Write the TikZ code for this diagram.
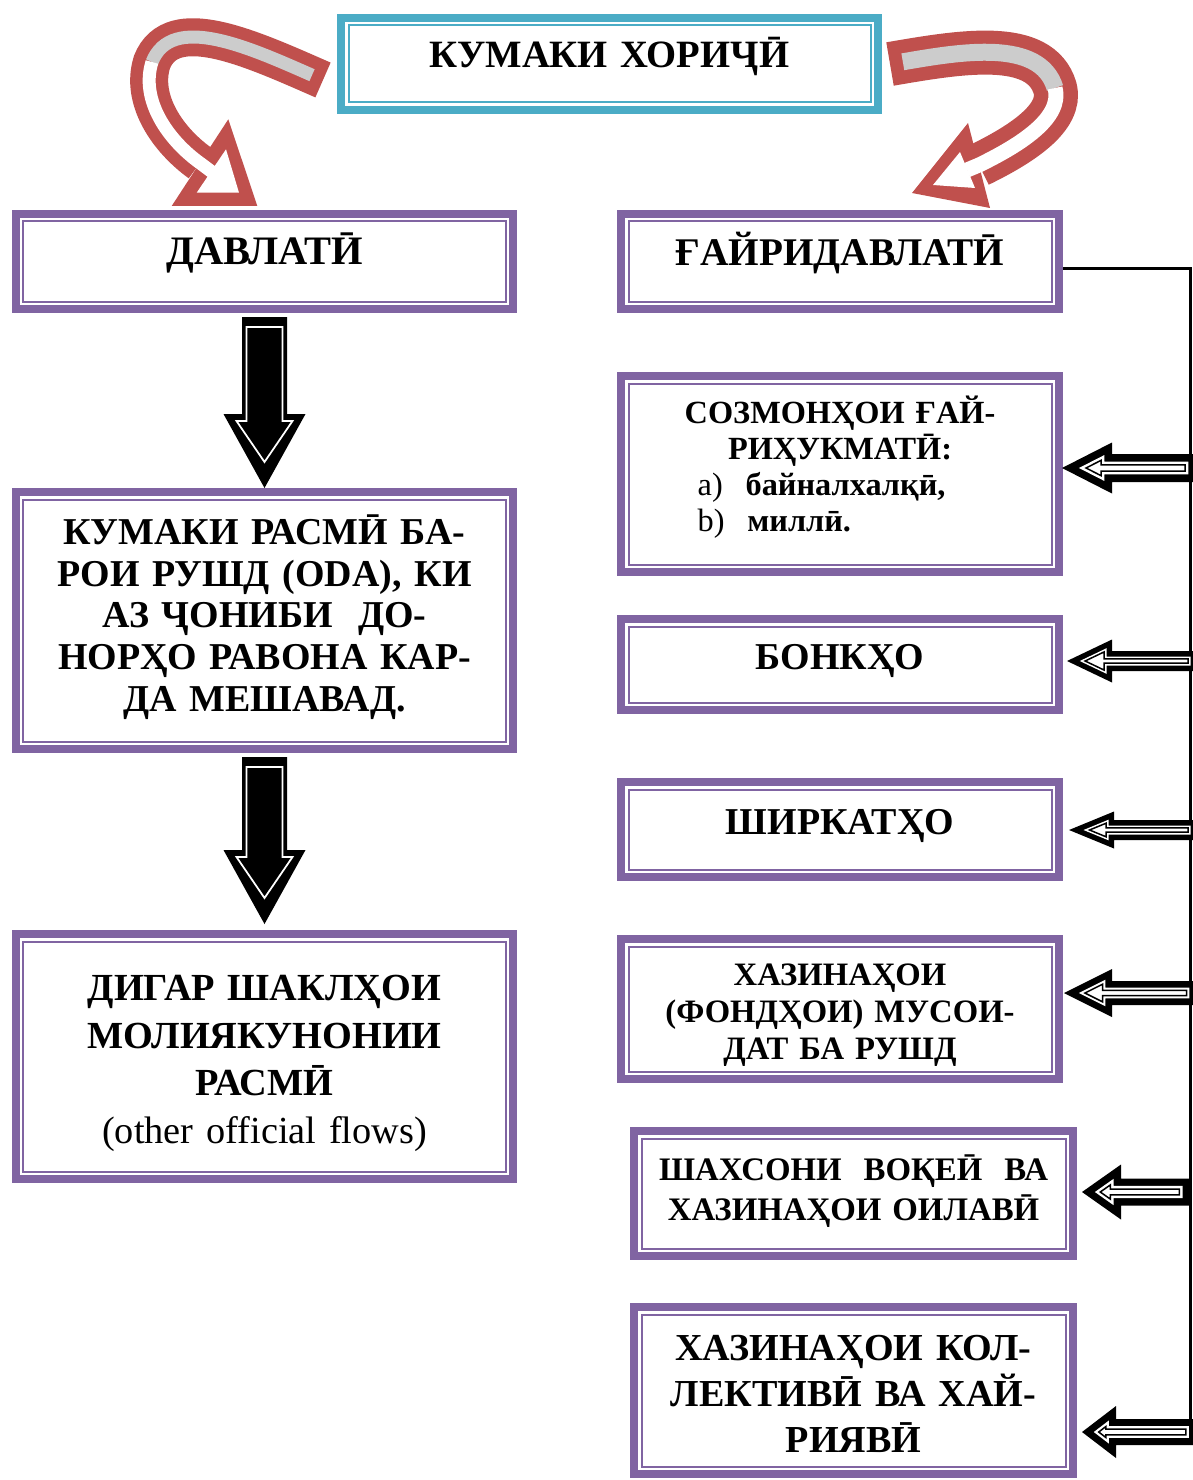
\documentclass[tikz,border=0pt]{standalone}
\usepackage{fontspec}
\setmainfont{Liberation Serif}
\usepackage{tikz}
\usetikzlibrary{calc}

\definecolor{boxpurple}{HTML}{8064A2}
\definecolor{boxteal}{HTML}{4BACC6}
\definecolor{arrowred}{HTML}{C0504D}
\definecolor{bandgray}{HTML}{CCCCCC}

\newcommand{\liftup}[2][5pt]{\raisebox{#1}[\height][\depth]{#2}}
\newcommand{\liftblock}[2][0pt]{\raisebox{#1}[\height][\depth]{\begin{tabular}{@{}c@{}}#2\end{tabular}}}

\tikzset{
  flowbox/.style={draw=#1, line width=1.6mm, fill=white, align=center, inner sep=1mm,
    path picture={\draw[#1, line width=0.4mm]
      ([shift={(1.5mm,1.5mm)}]path picture bounding box.south west) rectangle
      ([shift={(-1.5mm,-1.5mm)}]path picture bounding box.north east);}},
  flowbox/.default=boxpurple,
  leftcol/.style={minimum width=99.4mm, text width=95mm},
  rightcol/.style={minimum width=87.6mm, text width=84mm},
  lowcol/.style={minimum width=87.8mm, text width=84mm},
}

\begin{document}
\begin{tikzpicture}[x=0.2mm, y=-0.2mm]
    \useasboundingbox (0,0) rectangle (1192,1480);
    % boxes
    \node[flowbox=boxteal, minimum width=107.4mm, minimum height=18.4mm, text width=100mm,
      font=\fontsize{22}{25}\selectfont\bfseries] (title) at (609.5,64) {\liftup[4pt]{КУМАКИ ХОРИҶӢ}};
    \node[flowbox, leftcol, minimum height=19mm, font=\fontsize{23}{26}\selectfont\bfseries]
      (dav) at (264.5,261.5) {\liftup{ДАВЛАТӢ}};
    \node[flowbox, rightcol, minimum height=19mm, font=\fontsize{22.3}{25}\selectfont\bfseries]
      (ghd) at (840,261.5) {\liftup{ҒАЙРИДАВЛАТӢ}};
    \node[flowbox, rightcol, minimum height=39.2mm, font=\fontsize{18.4}{20.4}\selectfont\bfseries]
      (soz) at (840,474) {\liftblock[2.8pt]{СОЗМОНҲОИ ҒАЙ-\\РИҲУКМАТӢ:\\
      \makebox[162pt][l]{{\mdseries a)}\hspace{13pt}байналхалқӣ,}\\
      \makebox[162pt][l]{{\mdseries b)}\hspace{13pt}миллӣ.}}};
    \node[flowbox, leftcol, minimum height=51.4mm, font=\fontsize{21.6}{23.8}\selectfont\bfseries]
      (oda) at (264.5,620.5) {\liftblock[0.7pt]{КУМАКИ РАСМӢ БА-\\РОИ РУШД (ODA), КИ\\АЗ ҶОНИБИ~~ДО-\\НОРҲО РАВОНА КАР-\\ДА МЕШАВАД.}};
    \node[flowbox, rightcol, minimum height=18.2mm, font=\fontsize{21.6}{25}\selectfont\bfseries]
      (bank) at (840,664.5) {\liftup[1.8pt]{БОНКҲО}};
    \node[flowbox, rightcol, minimum height=19mm, font=\fontsize{21.6}{25}\selectfont\bfseries]
      (shirk) at (840,829.5) {\liftup[2.2pt]{ШИРКАТҲО}};
    \node[flowbox, rightcol, minimum height=28mm, font=\fontsize{18.6}{21}\selectfont\bfseries]
      (fund) at (840,1009) {\liftblock[-3.4pt]{ХАЗИНАҲОИ\\(ФОНДҲОИ) МУСОИ-\\ДАТ БА РУШД}};
    \node[flowbox, leftcol, minimum height=49mm, font=\fontsize{21.8}{27}\selectfont\bfseries]
      (other) at (264.5,1056.5) {\liftblock[-3.4pt]{ДИГАР ШАКЛҲОИ\\МОЛИЯКУНОНИИ\\РАСМӢ\\{\mdseries (other official flows)}}};
    \node[flowbox, lowcol, minimum height=25mm, font=\fontsize{18.7}{22.7}\selectfont\bfseries]
      (shax) at (853.5,1193.5) {\liftblock[0.6pt]{ШАХСОНИ~~ВОҚЕӢ~~ВА\\ХАЗИНАҲОИ ОИЛАВӢ}};
    \node[flowbox, lowcol, minimum height=33.4mm, font=\fontsize{21.7}{26}\selectfont\bfseries]
      (koll) at (853.5,1390.5) {\liftblock[-4pt]{ХАЗИНАҲОИ КОЛ-\\ЛЕКТИВӢ ВА ХАЙ-\\РИЯВӢ}};

    % curved arrow to the left
    \coordinate (ls) at ($(title.west)+(-14,16)$);
    \draw[arrowred, line width=7.6mm] (ls) .. controls (250,48) and (172,12) .. (152,62)
      .. controls (140,100) and (168,140) .. (200,163);
    \fill[arrowred] (171.7,206) -- (228.3,119.3) -- (257.3,206) -- cycle;
    \fill[white] (196.7,192.7) -- (226,149.3) -- (239,192.7) -- cycle;
    \draw[bandgray, line width=2.6mm, shorten <=2.4mm] (ls) .. controls (250,48) and (172,12) .. (152,62);
    \draw[white, line width=2.6mm] (152,62) .. controls (140,100) and (168,140) .. (200,163) -- (212,172);

    % curved arrow to the right
    \coordinate (rs) at ($(title.east)+(8,0)$);
    \draw[arrowred, line width=8.8mm] (rs) .. controls (960,52) and (1040,38) .. (1055,88)
      .. controls (1063,118) and (1020,145) .. (979,165);
    \fill[arrowred] (912,193) -- (968,123) -- (990,208) -- cycle;
    \fill[white] (933,185) -- (960,152) -- (975,188) -- cycle;
    \draw[bandgray, line width=3.4mm, shorten <=2.6mm] (rs) .. controls (960,52) and (1040,38) .. (1055,88);
    \draw[white, line width=3mm] (1055,88) .. controls (1063,118) and (1020,145) .. (979,165) -- (967,170);

    % down arrows
    \foreach \a/\b/\t in {dav/oda/0, oda/other/-6} {
      \coordinate (tail) at ($(\a.south)+(0,4)$);
      \coordinate (tip) at ($(\b.north)+(0,\t)$);
      \fill ($(tail)+(-22.5,0)$) -- ($(tip)+(-22.5,-74)$) -- ($(tip)+(-41,-74)$) -- (tip)
        -- ($(tip)+(41,-74)$) -- ($(tip)+(22.5,-74)$) -- ($(tail)+(22.5,0)$) -- cycle;
      \draw[white, line width=0.35mm] ($(tail)+(-18,10)$) -- ($(tip)+(-18,-67)$) -- ($(tip)+(-28,-67)$)
        -- ($(tip)+(0,-26)$) -- ($(tip)+(28,-67)$) -- ($(tip)+(18,-67)$) -- ($(tail)+(18,10)$) -- cycle;
    }

    % rail on the right
    \coordinate (rtop) at (1190,268);
    \coordinate (rbot) at (1190,1444);
    \draw[line width=0.6mm] (ghd.east |- rtop) -- (rtop) -- (rbot);

    % left-pointing block arrows
    \foreach \n/\dx/\dy/\len/\hh/\hl/\hs in {soz/-1/-6/134/25.5/50/14, bank/4/-3.5/129/21.5/45/10,
        shirk/6/0.5/127/18.5/45/10, fund/1/-16/132/24/48/12, shax/5/-1.5/108/27.5/39/13.5,
        koll/5/41.5/114/26/34/13} {
      \pgfmathsetmacro\da{0.55*\hs}
      \pgfmathsetmacro\db{0.78*\hs}
      \pgfmathsetmacro\ta{\da*sqrt(\hh*\hh+\hl*\hl)/\hh}
      \pgfmathsetmacro\ha{(\hl-\da-\ta)*\hh/\hl}
      \pgfmathsetmacro\tb{\db*sqrt(\hh*\hh+\hl*\hl)/\hh}
      \pgfmathsetmacro\hb{(\hl-\db-\tb)*\hh/\hl}
      \begin{scope}[shift={($(\n.east)+(\dx,\dy)$)}]
        \fill (0,0) -- (\hl,-\hh) -- (\hl,-\hs) -- (\len,-\hs) -- (\len,\hs) -- (\hl,\hs)
          -- (\hl,\hh) -- cycle;
        \fill[white] (\ta,0) -- (\hl-\da,-\ha) -- (\hl-\da,-\hs+\da) -- (\len-\da,-\hs+\da)
          -- (\len-\da,\hs-\da) -- (\hl-\da,\hs-\da) -- (\hl-\da,\ha) -- cycle;
        \draw[line width=0.3mm] (\tb,0) -- (\hl-\db,-\hb) -- (\hl-\db,-\hs+\db) -- (\len-\db,-\hs+\db)
          -- (\len-\db,\hs-\db) -- (\hl-\db,\hs-\db) -- (\hl-\db,\hb) -- cycle;
      \end{scope}
    }
\end{tikzpicture}
\end{document}
